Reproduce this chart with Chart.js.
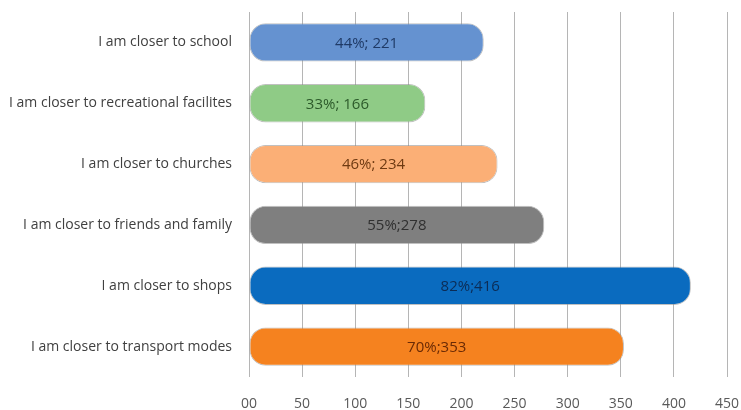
<!DOCTYPE html>
<html>
<head>
<meta charset="utf-8">
<script src="https://cdn.jsdelivr.net/npm/chart.js@4"></script>
<style>
    html, body { margin: 0; padding: 0; background: #fff; }
</style>
</head>
<body>
<canvas id="CHART" width="741" height="410"></canvas>
<script>
"use strict"

const categories = [
    "I am closer to school",
    "I am closer to recreational facilites",
    "I am closer to churches",
    "I am closer to friends and family",
    "I am closer to shops",
    "I am closer to transport modes",
]
const values = [221, 166, 234, 278, 416, 353]
const bar_labels = ["44%; 221", "33%; 166", "46%; 234", "55%;278", "82%;416", "70%;353"]
const x_ticks = [0, 50, 100, 150, 200, 250, 300, 350, 400, 450]

const bar_colors = ["#6592d0", "#8fcb86", "#fbaf76", "#7f7f7f", "#0a6bbf", "#f5821f"]
const label_colors = ["#1f3a66", "#2c5a2a", "#6e3a12", "#303030", "#0c2c55", "#6a2a05"]

const FONT = "'Open Sans'"

// draws "44%; 221" etc in the middle of each bar
const barText = {
    id: "barText",
    afterDatasetsDraw(chart) {
        const ctx = chart.ctx
        const meta = chart.getDatasetMeta(0)
        ctx.save()
        ctx.font = `15px ${FONT}`
        ctx.textAlign = "center"
        ctx.textBaseline = "middle"
        meta.data.forEach((bar, i) => {
            const x = (bar.base + bar.x) / 2
            ctx.fillStyle = label_colors[i]
            ctx.fillText(bar_labels[i], x, bar.y + 1)
        })
        ctx.restore()
    }
}

new Chart(CHART, {
    type: "bar",
    data: {
        labels: categories,
        datasets: [{
            data: values,
            backgroundColor: bar_colors,
            borderColor: "rgba(140,140,140,0.55)",
            borderWidth: 1,
            borderSkipped: false,
            borderRadius: 16,
            categoryPercentage: 0.63,
            barPercentage: 1,
        }]
    },
    options: {
        indexAxis: "y",
        animation: false,
        responsive: false,
        maintainAspectRatio: false,
        layout: { padding: { top: 12, right: 0, bottom: 0, left: 0 } },
        plugins: { legend: { display: false }, tooltip: { enabled: false } },
        scales: {
            x: {
                min: 0,
                max: 450,
                afterBuildTicks: axis => axis.ticks = x_ticks.map(v => ({ value: v })),
                afterFit: axis => {
                    axis.height = 33
                    axis.paddingLeft = 0
                    axis.paddingRight = 14
                },
                border: { display: false },
                grid: { color: "#b5b5b5", lineWidth: 1, drawTicks: false },
                ticks: {
                    padding: 19,
                    color: "#595959",
                    font: { family: FONT, size: 14 },
                    callback: v => v == 0 ? "00" : String(v),
                },
            },
            y: {
                afterFit: axis => {
                    axis.width = 249
                    axis.paddingTop = 0
                    axis.paddingBottom = 0
                },
                border: { display: false },
                grid: { display: false },
                ticks: {
                    padding: 9,
                    color: "#404040",
                    font: { family: FONT, size: 14 },
                },
            },
        },
    },
    plugins: [barText],
})
</script>
</body>
</html>
